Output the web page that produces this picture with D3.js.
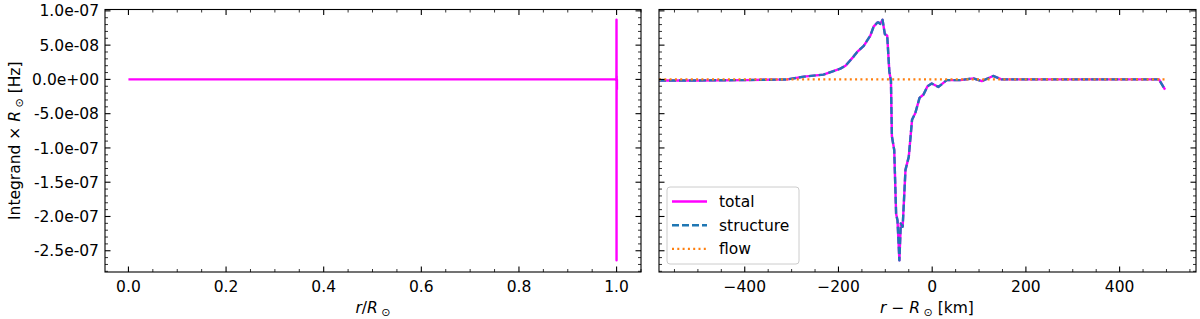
<!DOCTYPE html>
<html>
<head>
<meta charset="utf-8">
<script src="https://cdn.jsdelivr.net/npm/d3@7"></script>
<style>
  body { margin: 0; background: #fff; }
  text { font-family: "DejaVu Sans", sans-serif; fill: #000; }
</style>
</head>
<body>
<script>
// near-surface profile, r - Rsun in km
var surfaceKm = [-583, -500, -400, -309, -274, -232, -196, -185, -167, -160, -146, -132, -125, -117, -114, -111, -106, -101, -96, -91.5, -88, -86, -81, -77, -74, -70, -67, -63, -57, -50, -43, -36, -27, -18.5, -10, -1, 13.5, 31, 60, 88, 106, 130, 148, 200, 300, 400, 484, 497];
// integrand * Rsun, units of 1e-9 Hz
var totalVals = [-1.5, -1.5, -1, 0, 4, 7, 15.7, 20, 34, 40, 49, 64, 77, 83, 83, 81, 87, 66, 64, 12, -2.5, -83, -103, -196, -206, -264, -210, -215, -132, -113, -59, -49, -27, -22, -10, -6, -11, -1, -1, 1.5, -2.5, 5, 0, 0, 0, 0, 0, -15];
var structureVals = [-1.5, -1.5, -1, 0, 4, 7, 15.7, 20, 34, 40, 49, 64, 77, 83, 83, 81, 87, 66, 64, 12, -2.5, -83, -103, -196, -206, -264, -210, -215, -132, -113, -59, -49, -27, -22, -10, -6, -11, -1, -1, 1.5, -2.5, 5, 0, 0, 0, 0, 0, -15];
var flowKm = [-583, 497];
var flowVals = [0, 0];
// interior, r/Rsun
var interiorR = [0, 0.25, 0.5, 0.75, 0.999];
var interiorVals = [0, 0, 0, 0, 0];

var leftTicks = [0, 0.2, 0.4, 0.6, 0.8, 1.0];
var rightTicks = [-400, -200, 0, 200, 400];
var yTicks = [1e-7, 5e-8, 0, -5e-8, -1e-7, -1.5e-7, -2e-7, -2.5e-7];

var RSUN_KM = 695700;
var W = 1200, H = 319;
var fs = 15.5;
var lw = 2.4;
var colors = { total: "#ff00ff", structure: "#1f77b4", flow: "#ff7f0e" };

var svg = d3.select("body").append("svg")
    .attr("width", W)
    .attr("height", H);

var yTop = 9.5, yBot = 272;
var y = d3.scaleLinear().domain([-2.81e-7, 1.02e-7]).range([yBot, yTop]);

var xL = d3.scaleLinear().domain([-0.048, 1.05]).range([105, 641]);
var xR = d3.scaleLinear().domain([-583, 563]).range([659, 1196]);

function range(a, b, s) {
  var out = [];
  for (var v = a; v <= b + 1e-12; v += s) out.push(+v.toFixed(12));
  return out;
}

function drawPanel(x, majors, minorStep, showYLabels, fmt) {
  var g = svg.append("g");
  var x0 = x.range()[0], x1 = x.range()[1];
  var dom = x.domain();
  var minorsX = range(Math.ceil(dom[0] / minorStep) * minorStep, dom[1], minorStep);
  var minorsY = range(-2.8e-7, 1.0e-7, 1e-8);

  // x ticks, inward, top and bottom
  minorsX.forEach(function(v) {
    var px = x(v);
    var major = majors.some(function(m) { return Math.abs(m - v) < minorStep / 10; });
    var len = major ? 5.5 : 3;
    g.append("line").attr("x1", px).attr("x2", px).attr("y1", yBot).attr("y2", yBot - len)
      .attr("stroke", "#000").attr("stroke-width", major ? 1.1 : 0.8);
    g.append("line").attr("x1", px).attr("x2", px).attr("y1", yTop).attr("y2", yTop + len)
      .attr("stroke", "#000").attr("stroke-width", major ? 1.1 : 0.8);
  });
  majors.forEach(function(v) {
    g.append("text").attr("x", x(v)).attr("y", 292).attr("text-anchor", "middle")
      .style("font-size", fs + "px").text(fmt(v));
  });

  // y ticks, inward, left and right
  minorsY.forEach(function(v) {
    var py = y(v);
    if (py < yTop || py > yBot) return;
    var major = yTicks.some(function(m) { return Math.abs(m - v) < 1e-9; });
    var len = major ? 5.5 : 3;
    g.append("line").attr("x1", x0).attr("x2", x0 + len).attr("y1", py).attr("y2", py)
      .attr("stroke", "#000").attr("stroke-width", major ? 1.1 : 0.8);
    g.append("line").attr("x1", x1).attr("x2", x1 - len).attr("y1", py).attr("y2", py)
      .attr("stroke", "#000").attr("stroke-width", major ? 1.1 : 0.8);
  });
  if (showYLabels) {
    yTicks.forEach(function(v) {
      var s = v.toExponential(1).replace(/e([+-])(\d)$/, "e$10$2");
      g.append("text").attr("x", 99).attr("y", y(v)).attr("dy", "0.36em")
        .attr("text-anchor", "end").style("font-size", fs + "px").text(s);
    });
  }
  return g;
}

// clip paths
svg.append("clipPath").attr("id", "clipL").append("rect")
  .attr("x", 105).attr("y", yTop).attr("width", 641 - 105).attr("height", yBot - yTop);
svg.append("clipPath").attr("id", "clipR").append("rect")
  .attr("x", 659).attr("y", yTop).attr("width", 1196 - 659).attr("height", yBot - yTop);

// left panel data
var leftData = interiorR.map(function(r, i) { return [r, interiorVals[i]]; })
  .concat(surfaceKm.map(function(k, i) { return [1 + k / RSUN_KM, totalVals[i] * 1e-9]; }));

var lineL = d3.line().x(function(d) { return xL(d[0]); }).y(function(d) { return y(d[1]); });
svg.append("g").attr("clip-path", "url(#clipL)").append("path")
  .datum(leftData)
  .attr("d", lineL)
  .attr("fill", "none")
  .attr("stroke", colors.total)
  .attr("stroke-width", lw)
  .attr("stroke-linejoin", "round");

// right panel data
var lineR = d3.line().x(function(d) { return xR(d[0]); }).y(function(d) { return y(d[1]); });
var gR = svg.append("g").attr("clip-path", "url(#clipR)");
gR.append("path")
  .datum(surfaceKm.map(function(k, i) { return [k, totalVals[i] * 1e-9]; }))
  .attr("d", lineR).attr("fill", "none")
  .attr("stroke", colors.total).attr("stroke-width", lw).attr("stroke-linejoin", "round");
gR.append("path")
  .datum(surfaceKm.map(function(k, i) { return [k, structureVals[i] * 1e-9]; }))
  .attr("d", lineR).attr("fill", "none")
  .attr("stroke", colors.structure).attr("stroke-width", lw)
  .attr("stroke-dasharray", "7,3").attr("stroke-linejoin", "round");
gR.append("path")
  .datum(flowKm.map(function(k, i) { return [k, flowVals[i] * 1e-9]; }))
  .attr("d", lineR).attr("fill", "none")
  .attr("stroke", colors.flow).attr("stroke-width", lw)
  .attr("stroke-dasharray", "2,3.3");

drawPanel(xL, leftTicks, 0.05, true, function(v) { return v.toFixed(1); });
drawPanel(xR, rightTicks, 50, false, function(v) { return v < 0 ? "\u2212" + Math.abs(v) : String(v); });

// frames
[[105, 641], [659, 1196]].forEach(function(e) {
  svg.append("rect").attr("x", e[0]).attr("y", yTop).attr("width", e[1] - e[0]).attr("height", yBot - yTop)
    .attr("fill", "none").attr("stroke", "#000").attr("stroke-width", 1.1);
});

// axis titles
var t1 = svg.append("text").attr("x", 373).attr("y", 313).attr("text-anchor", "middle").style("font-size", fs + "px");
t1.append("tspan").style("font-style", "italic").text("r");
t1.append("tspan").text("/");
t1.append("tspan").style("font-style", "italic").text("R");
t1.append("tspan").attr("dy", 3).style("font-size", "11px").text(" \u2299");

var t2 = svg.append("text").attr("x", 927).attr("y", 313).attr("text-anchor", "middle").style("font-size", fs + "px");
t2.append("tspan").style("font-style", "italic").text("r");
t2.append("tspan").text(" \u2212 ");
t2.append("tspan").style("font-style", "italic").text("R");
t2.append("tspan").attr("dy", 3).style("font-size", "11px").text(" \u2299");
t2.append("tspan").attr("dy", -3).text(" [km]");

var t3 = svg.append("text").attr("transform", "translate(20," + ((yTop + yBot) / 2) + ") rotate(-90)")
  .attr("text-anchor", "middle").style("font-size", fs + "px");
t3.append("tspan").text("Integrand \u00d7 ");
t3.append("tspan").style("font-style", "italic").text("R");
t3.append("tspan").attr("dy", 3).style("font-size", "11px").text(" \u2299");
t3.append("tspan").attr("dy", -3).text(" [Hz]");

// legend
var lg = svg.append("g");
lg.append("rect").attr("x", 667).attr("y", 187).attr("width", 132).attr("height", 77)
  .attr("rx", 3).attr("fill", "#fff").attr("fill-opacity", 0.8)
  .attr("stroke", "#cccccc").attr("stroke-width", 1);
var items = [
  { name: "total", color: colors.total, dash: null },
  { name: "structure", color: colors.structure, dash: "7,3" },
  { name: "flow", color: colors.flow, dash: "2,3.3" }
];
items.forEach(function(d, i) {
  var yy = 201.5 + i * 23.7;
  lg.append("line").attr("x1", 672).attr("x2", 707).attr("y1", yy).attr("y2", yy)
    .attr("stroke", d.color).attr("stroke-width", lw).attr("stroke-dasharray", d.dash);
  lg.append("text").attr("x", 719).attr("y", yy).attr("dy", "0.36em")
    .style("font-size", fs + "px").text(d.name);
});
</script>
</body>
</html>
